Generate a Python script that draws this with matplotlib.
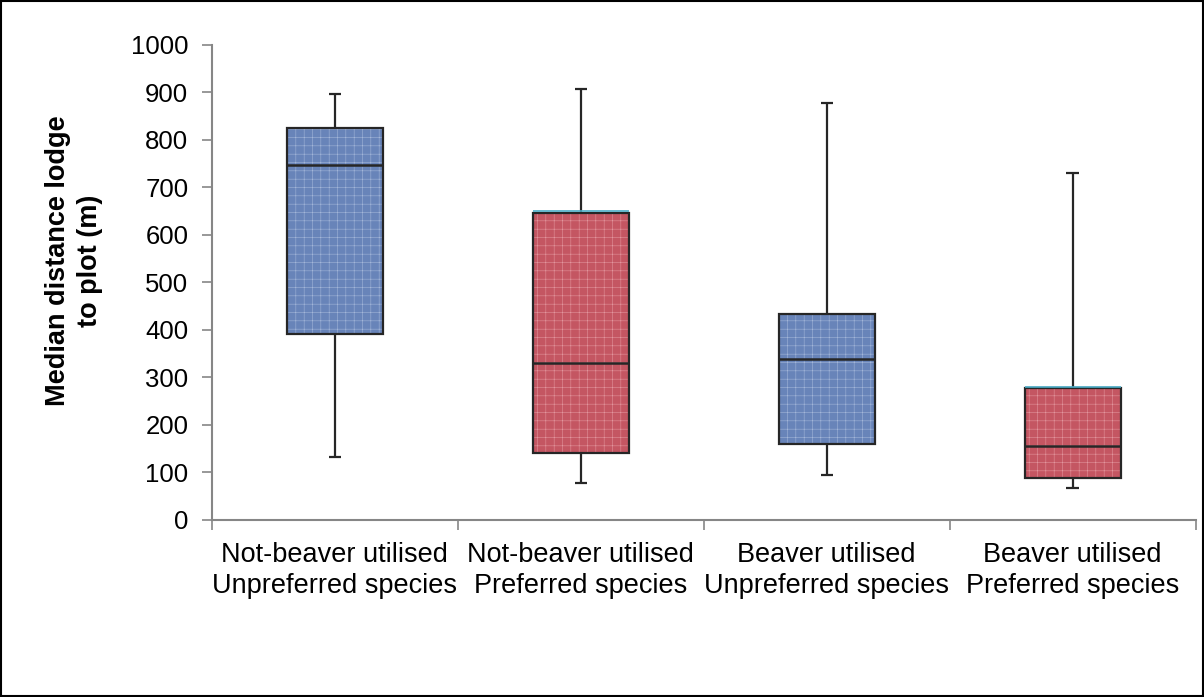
import numpy as np
import matplotlib
matplotlib.use("Agg")
import matplotlib.pyplot as plt
from matplotlib.patches import Rectangle

plt.rcParams['font.family'] = ['Liberation Sans', 'DejaVu Sans']
plt.rcParams['hatch.linewidth'] = 0.4

# box plot values
categories = ["Not-beaver utilised\nUnpreferred species",
              "Not-beaver utilised\nPreferred species",
              "Beaver utilised\nUnpreferred species",
              "Beaver utilised\nPreferred species"]
whisker_low = [133, 77, 95, 67]
q1 = [392, 140, 160, 88]
median = [748, 331, 338, 155]
q3 = [825, 647, 433, 277]
whisker_high = [897, 907, 877, 731]

fills = ["#6884b9", "#c45662", "#6884b9", "#c45662"]
hatch_cols = ["#a2b5d8", "#e2949c", "#a2b5d8", "#e2949c"]

fig = plt.figure(figsize=(12.04, 6.97), dpi=100)
ax = fig.add_axes([0.176, 0.254, 0.817, 0.6815])

x = np.arange(len(categories))
w = 0.39
dark = "#262626"

# boxes q1 -> q3 with the median drawn across
ax.bar(x, np.array(q3) - np.array(q1), w, bottom=q1, color=fills,
       edgecolor=hatch_cols, linewidth=0, hatch="++", zorder=2)
ax.bar(x, np.array(q3) - np.array(q1), w, bottom=q1, fill=False,
       edgecolor=dark, linewidth=1.6, zorder=3)
ax.hlines(median, x - w / 2, x + w / 2, color=dark, linewidth=1.8, zorder=4)
# thin cyan line sitting on top of the red boxes
for i in (1, 3):
    ax.hlines(q3[i] + 2.5, x[i] - w / 2, x[i] + w / 2, color="#4bacc6", linewidth=1.2, zorder=4)

# whiskers with caps
ax.vlines(x, q3, whisker_high, color=dark, linewidth=1.6, zorder=1)
ax.vlines(x, whisker_low, q1, color=dark, linewidth=1.6, zorder=1)
cap = 0.025
ax.hlines(whisker_high, x - cap, x + cap, color=dark, linewidth=1.6)
ax.hlines(whisker_low, x - cap, x + cap, color=dark, linewidth=1.6)

ax.set_xlim(-0.5, len(categories) - 0.5)
ax.set_ylim(0, 1000)
ax.set_yticks(np.arange(0, 1001, 100))
ax.set_xticks(x)
ax.set_xticklabels(categories, fontsize=19.5, linespacing=1.25)
ax.set_xticks(np.arange(-0.5, len(categories), 1), minor=True)
ax.tick_params(axis="x", which="major", length=0, pad=16)
ax.tick_params(axis="x", which="minor", length=7, width=1.2, color="#868686", direction="out")
ax.tick_params(axis="y", length=7, width=1.2, color="#868686", pad=10, labelsize=18.5)

for s in ["top", "right"]:
    ax.spines[s].set_visible(False)
for s in ["left", "bottom"]:
    ax.spines[s].set_color("#868686")
    ax.spines[s].set_linewidth(1.5)

ax.set_ylabel("Median distance lodge\nto plot (m)", fontsize=19.5, fontweight="bold",
              linespacing=1.3)
ax.yaxis.set_label_coords(-0.111, 0.545)

fig.patches.append(Rectangle((0.0008, 0.0012), 0.9984, 0.9976, transform=fig.transFigure,
                             fill=False, edgecolor="black", linewidth=1.5))

fig.savefig("out.png", dpi=100)
